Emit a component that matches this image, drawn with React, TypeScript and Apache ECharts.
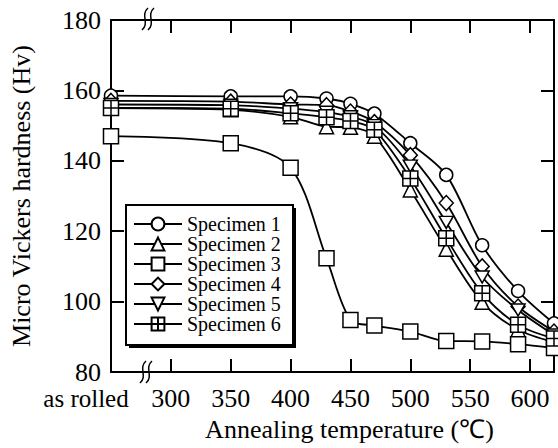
import React, { useEffect, useRef } from "react";
import * as echarts from "echarts";

const temps = [250, 350, 400, 430, 450, 470, 500, 530, 560, 590, 620];
const names = ["Specimen 1", "Specimen 2", "Specimen 3", "Specimen 4", "Specimen 5", "Specimen 6"];
const s1 = [158.5, 158.3, 158.3, 157.7, 156.2, 153.4, 145.0, 136.0, 116.0, 103.0, 93.8];
const s2 = [155.0, 154.5, 152.5, 149.7, 149.5, 147.0, 131.7, 114.9, 99.8, 92.0, 88.5];
const s3 = [147.0, 145.0, 138.0, 112.3, 94.8, 93.2, 91.5, 88.8, 88.7, 87.9, 86.8];
const s4 = [157.0, 156.8, 156.0, 155.8, 154.0, 151.0, 141.6, 128.0, 110.0, 98.6, 91.5];
const s5 = [156.0, 155.8, 154.8, 153.8, 152.5, 150.0, 138.5, 122.5, 107.0, 97.6, 90.5];
const s6 = [155.0, 154.8, 153.5, 152.4, 151.3, 148.8, 135.0, 118.0, 102.4, 93.4, 89.5];
const xTickLabels: Record<number, string> = {
  300: "300", 350: "350", 400: "400", 450: "450", 500: "500", 550: "550", 600: "600",
};
const asRolledLabel = "as rolled";

const FONT = "Liberation Serif";

const symbols = [
  { symbol: "circle", size: 13 },
  { symbol: "triangle", size: 14 },
  { symbol: "rect", size: 15 },
  { symbol: "diamond", size: [14, 15] },
  { symbol: "path://M0,0L10,0L5,9Z", size: [14, 12] },
  { symbol: "path://M0,0H10V10H0Z M5,0V10 M0,5H10", size: 15 },
];

export default function App() {
  const ref = useRef<HTMLDivElement>(null);
  useEffect(() => {
    if (!ref.current) return;
    const chart = echarts.init(ref.current, null, { renderer: "svg" });
    const allData = [s1, s2, s3, s4, s5, s6];
    const series = allData.map((d, i) => ({
      name: names[i],
      type: "line",
      data: d.map((v, j) => [temps[j], v]),
      smooth: 0.3,
      symbol: symbols[i].symbol,
      symbolSize: symbols[i].size,
      showAllSymbol: true,
      lineStyle: { color: "#000", width: 1.8 },
      itemStyle: { color: "#fff", borderColor: "#000", borderWidth: 1.5 },
      z: 2 + i,
    }));
    const axisCommon = {
      axisLine: { show: true, lineStyle: { color: "#000", width: 2 } },
      axisTick: { show: true, inside: true, length: 13, lineStyle: { color: "#000", width: 2 } },
      splitLine: { show: false },
    };
    const breakMark = (x: number, y: number) => ({
      type: "group",
      z: 100,
      children: [0, 6].map((dx) => ({
        type: "bezierCurve",
        shape: {
          x1: x + dx + 3, y1: y - 11,
          cpx1: x + dx - 5, cpx2: x + dx + 5,
          cpy1: y - 4, cpy2: y + 4,
          x2: x + dx - 3, y2: y + 11,
        },
        style: { stroke: "#000", lineWidth: 1.5, fill: null },
      })),
    });
    const legendBox = { x: 126, y: 205, w: 167, h: 140 };
    chart.setOption({
      animation: false,
      backgroundColor: "#fff",
      textStyle: { fontFamily: FONT },
      grid: { left: 106, right: 4, top: 20, bottom: 76 },
      legend: {
        orient: "vertical",
        left: 126,
        top: 205,
        z: 30,
        itemWidth: 48,
        itemHeight: 16,
        itemGap: 0,
        padding: [9, 8, 8, 7],
        data: names,
        textStyle: { fontFamily: FONT, fontSize: 20, color: "#000" },
      },
      xAxis: [
        {
          type: "value",
          min: 250,
          max: 620,
          interval: 50,
          ...axisCommon,
          axisLabel: {
            margin: 15,
            fontFamily: FONT,
            fontSize: 26,
            lineHeight: 22,
            color: "#000",
            formatter: (v: number) => xTickLabels[v] ?? "",
          },
          name: "Annealing temperature (\u2103)",
          nameLocation: "middle",
          nameGap: 44,
          nameTextStyle: { fontFamily: FONT, fontSize: 26, color: "#000", padding: [0, 0, 0, 34] },
        },
        {
          type: "value",
          position: "top",
          min: 250,
          max: 620,
          interval: 50,
          ...axisCommon,
          axisLabel: { show: false },
        },
      ],
      yAxis: [
        {
          type: "value",
          min: 80,
          max: 180,
          interval: 20,
          ...axisCommon,
          axisLabel: { margin: 10, fontFamily: FONT, fontSize: 26, lineHeight: 22, color: "#000" },
          name: "Micro Vickers hardness (Hv)",
          nameLocation: "middle",
          nameGap: 77,
          nameTextStyle: { fontFamily: FONT, fontSize: 26, color: "#000" },
        },
        {
          type: "value",
          position: "right",
          min: 80,
          max: 180,
          interval: 20,
          ...axisCommon,
          axisLabel: { show: false },
        },
      ],
      graphic: [
        {
          type: "rect",
          z: 28,
          shape: { x: legendBox.x + 3, y: legendBox.y + 3, width: legendBox.w, height: legendBox.h },
          style: { fill: "#000" },
        },
        {
          type: "rect",
          z: 29,
          shape: { x: legendBox.x, y: legendBox.y, width: legendBox.w, height: legendBox.h },
          style: { fill: "#fff", stroke: "#000", lineWidth: 2 },
        },
        {
          type: "text",
          x: 86,
          y: 398,
          z: 50,
          style: {
            text: asRolledLabel,
            fontFamily: FONT,
            fontSize: 25,
            fill: "#000",
            align: "center",
            verticalAlign: "middle",
          },
        },
        breakMark(145, 19),
        breakMark(143, 372),
      ],
      series,
    });
    return () => chart.dispose();
  }, []);
  return (
    <div
      ref={ref}
      style={{ position: "fixed", left: 0, top: 0, width: 558, height: 448 }}
    />
  );
}
